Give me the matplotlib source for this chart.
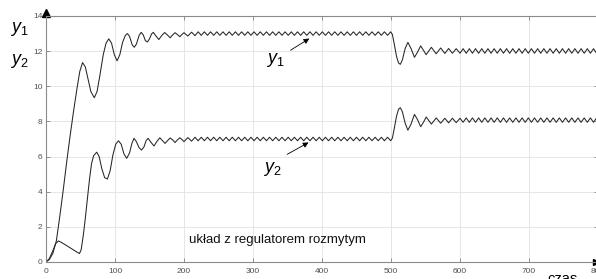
import matplotlib
matplotlib.use('Agg')
import matplotlib.pyplot as plt

# ---------------- data ----------------
x_ticks = [0, 100, 200, 300, 400, 500, 600, 700, 800]
y_ticks = [0, 2, 4, 6, 8, 10, 12, 14]

# y1: initial transient
t1_rise = [0, 5, 10, 15, 20, 25, 30, 35, 40, 45,
           49, 53, 57, 61, 65, 70, 74, 78, 83, 87,
           91, 95, 99, 103, 107, 111, 115, 118, 121, 125,
           128, 131, 135, 138, 141, 144, 147, 150, 153, 155.5,
           159, 163.5, 168, 172, 176, 180, 183.5, 187, 190.5, 194,
           197, 200, 205.5, 211, 216]
y1_rise = [0, 0.15, 0.5, 1.2, 2.6, 4.1, 5.7, 7.2, 8.6, 9.9,
           10.85, 11.35, 11.1, 10.4, 9.7, 9.35, 9.7, 10.6, 11.8, 12.45,
           12.7, 12.45, 11.8, 11.45, 11.8, 12.5, 12.9, 13.0, 12.85, 12.35,
           12.22, 12.4, 12.9, 13.07, 12.92, 12.6, 12.52, 12.7, 12.98, 13.07,
           12.88, 12.66, 12.9, 13.06, 12.92, 12.76, 12.92, 13.05, 12.94, 12.82,
           12.95, 13.05, 12.86, 13.08, 12.88]

# y2: initial transient
t2_rise = [0, 5, 10, 14, 18, 22, 28, 34, 40, 45,
           48.5, 51, 54, 57, 60, 63, 66, 69, 73.5, 77,
           81, 85, 89, 93, 97, 101, 105, 109, 113, 117,
           121, 124.5, 127.5, 131, 135, 138.5, 142, 145, 148, 152,
           156.5, 160.5, 165, 169, 172.5, 176, 180, 183.5, 187, 190.5,
           194, 197, 200, 205.5, 211, 216]
y2_rise = [0, 0.2, 0.65, 1.05, 1.2, 1.12, 0.98, 0.83, 0.68, 0.56,
           0.48, 0.7, 1.5, 2.5, 3.6, 4.7, 5.6, 6.05, 6.25, 6.0,
           5.3, 4.8, 4.72, 5.2, 6.1, 6.7, 6.9, 6.7, 6.15, 5.9,
           6.2, 6.75, 7.04, 6.85, 6.5, 6.37, 6.55, 6.9, 7.04, 6.82,
           6.6, 6.85, 7.07, 6.9, 6.75, 6.9, 7.06, 6.95, 6.8, 6.95,
           7.07, 6.97, 6.85, 7.08, 6.88, 7.1]

# sustained oscillation before the set-point change (peaks / troughs)
t_hold_a = [220.5, 225, 229.5, 234, 238.5, 243, 247.5, 252, 256.5, 261,
            265.5, 270, 274.5, 279, 283.5, 288, 292.5, 297, 301.5, 306,
            310.5, 315, 319.5, 324, 328.5, 333, 337.5, 342, 346.5, 351,
            355.5, 360, 364.5, 369, 373.5, 378, 382.5, 387, 391.5, 396,
            400.5, 405, 409.5, 414, 418.5, 423, 427.5, 432, 436.5, 441,
            445.5, 450, 454.5, 459, 463.5, 468, 472.5, 477, 481.5, 486,
            490.5, 495, 499.5]
y1_hold_a = [13.1, 12.9, 13.1, 12.9, 13.1, 12.9, 13.1, 12.9, 13.1, 12.9,
             13.1, 12.9, 13.1, 12.9, 13.1, 12.9, 13.1, 12.9, 13.1, 12.9,
             13.1, 12.9, 13.1, 12.9, 13.1, 12.9, 13.1, 12.9, 13.1, 12.9,
             13.1, 12.9, 13.1, 12.9, 13.1, 12.9, 13.1, 12.9, 13.1, 12.9,
             13.1, 12.9, 13.1, 12.9, 13.1, 12.9, 13.1, 12.9, 13.1, 12.9,
             13.1, 12.9, 13.1, 12.9, 13.1, 12.9, 13.1, 12.9, 13.1, 12.9,
             13.1, 12.9, 13.1]
y2_hold_a = [6.9, 7.1, 6.9, 7.1, 6.9, 7.1, 6.9, 7.1, 6.9, 7.1,
             6.9, 7.1, 6.9, 7.1, 6.9, 7.1, 6.9, 7.1, 6.9, 7.1,
             6.9, 7.1, 6.9, 7.1, 6.9, 7.1, 6.9, 7.1, 6.9, 7.1,
             6.9, 7.1, 6.9, 7.1, 6.9, 7.1, 6.9, 7.1, 6.9, 7.1,
             6.9, 7.1, 6.9, 7.1, 6.9, 7.1, 6.9, 7.1, 6.9, 7.1,
             6.9, 7.1, 6.9, 7.1, 6.9, 7.1, 6.9, 7.1, 6.9, 7.1,
             6.9, 7.1, 6.9]

# transient after the set-point change at t = 500
t_step = [502, 505, 508, 511, 513.5, 516.5, 520.5, 524.5, 529, 534,
          538.5, 543, 547, 551, 558.5, 565.5, 572, 578, 583.5, 589,
          594.5, 600]
y1_step = [12.95, 12.35, 11.7, 11.32, 11.25, 11.5, 12.15, 12.5, 12.15, 11.65,
           11.95, 12.3, 12.05, 11.8, 12.22, 11.85, 12.18, 11.87, 12.15, 11.88,
           12.14, 11.88]
y2_step = [7.05, 7.65, 8.3, 8.7, 8.78, 8.55, 7.9, 7.5, 7.85, 8.4,
           8.1, 7.7, 7.95, 8.25, 7.85, 8.2, 7.9, 8.18, 7.92, 8.18,
           7.93, 8.18]

# sustained oscillation after the set-point change
t_hold_b = [604.5, 609, 613.5, 618, 622.5, 627, 631.5, 636, 640.5, 645,
            649.5, 654, 658.5, 663, 667.5, 672, 676.5, 681, 685.5, 690,
            694.5, 699, 703.5, 708, 712.5, 717, 721.5, 726, 730.5, 735,
            739.5, 744, 748.5, 753, 757.5, 762, 766.5, 771, 775.5, 780,
            784.5, 789, 793.5, 798]
y1_hold_b = [12.14, 11.88, 12.14, 11.88, 12.14, 11.88, 12.14, 11.88, 12.14, 11.88,
             12.14, 11.88, 12.14, 11.88, 12.14, 11.88, 12.14, 11.88, 12.14, 11.88,
             12.14, 11.88, 12.14, 11.88, 12.14, 11.88, 12.14, 11.88, 12.14, 11.88,
             12.14, 11.88, 12.14, 11.88, 12.14, 11.88, 12.14, 11.88, 12.14, 11.88,
             12.14, 11.88, 12.14, 11.88]
y2_hold_b = [7.95, 8.2, 7.95, 8.2, 7.95, 8.2, 7.95, 8.2, 7.95, 8.2,
             7.95, 8.2, 7.95, 8.2, 7.95, 8.2, 7.95, 8.2, 7.95, 8.2,
             7.95, 8.2, 7.95, 8.2, 7.95, 8.2, 7.95, 8.2, 7.95, 8.2,
             7.95, 8.2, 7.95, 8.2, 7.95, 8.2, 7.95, 8.2, 7.95, 8.2,
             7.95, 8.2, 7.95, 8.2]

t1 = t1_rise + t_hold_a + t_step + t_hold_b
y1 = y1_rise + y1_hold_a + y1_step + y1_hold_b
t2 = t2_rise + t_hold_a + t_step + t_hold_b
y2 = y2_rise + y2_hold_a + y2_step + y2_hold_b

# ---------------- drawing ----------------
plt.rcParams['font.family'] = ['Liberation Sans', 'DejaVu Sans']
plt.rcParams['mathtext.fontset'] = 'custom'
plt.rcParams['mathtext.it'] = 'Liberation Sans:italic'
plt.rcParams['mathtext.rm'] = 'Liberation Sans'

fig = plt.figure(figsize=(5.96, 2.79), dpi=100)
ax = fig.add_axes([46 / 596, 17 / 279, 552 / 596, 246 / 279])

for tt, yy in ((t1, y1), (t2, y2)):
    ax.plot(tt, yy, color='#262626', lw=0.75,
            solid_joinstyle='round', solid_capstyle='round')

ax.set_xlim(0, 800)
ax.set_ylim(0, 14)
ax.set_xticks(x_ticks)
ax.set_yticks(y_ticks)
ax.grid(True, color='#e2e2e2', lw=0.6)
ax.set_axisbelow(True)
ax.tick_params(direction='in', length=3, width=0.6, color='#808080',
               labelcolor='#505050', labelsize=6, top=True, right=True)
ax.tick_params(axis='x', pad=4)
ax.tick_params(axis='y', pad=2.5)
for s in ax.spines.values():
    s.set_color('#8a8a8a')
    s.set_linewidth(0.8)

# axis arrows
ax.plot([0], [14.15], marker='^', color='k', ms=5.5, clip_on=False)
ax.plot([797], [0], marker='>', color='k', ms=4, clip_on=False)

# axis labels
fig.text(19 / 596, 1 - 29 / 279, '$y_1$', fontsize=13, ha='center', va='center')
fig.text(19 / 596, 1 - 61 / 279, '$y_2$', fontsize=13, ha='center', va='center')
fig.text(563 / 596, 1 - 272 / 279, 'czas', fontsize=10.5, ha='center', va='top')

# in-plot annotations
ax.text(332, 11.47, '$y_1$', fontsize=13, ha='center', va='center')
ax.annotate('', xy=(385, 12.8), xytext=(351, 11.97),
            arrowprops=dict(arrowstyle='-|>', color='k', lw=0.6, mutation_scale=8))
ax.text(328, 5.32, '$y_2$', fontsize=13, ha='center', va='center')
ax.annotate('', xy=(384, 6.88), xytext=(346, 6.05),
            arrowprops=dict(arrowstyle='-|>', color='k', lw=0.6, mutation_scale=8))
ax.text(336, 1.25, 'układ z regulatorem rozmytym', fontsize=9.5,
        ha='center', va='center', color='#111111')

fig.savefig('out.png', dpi=100)
